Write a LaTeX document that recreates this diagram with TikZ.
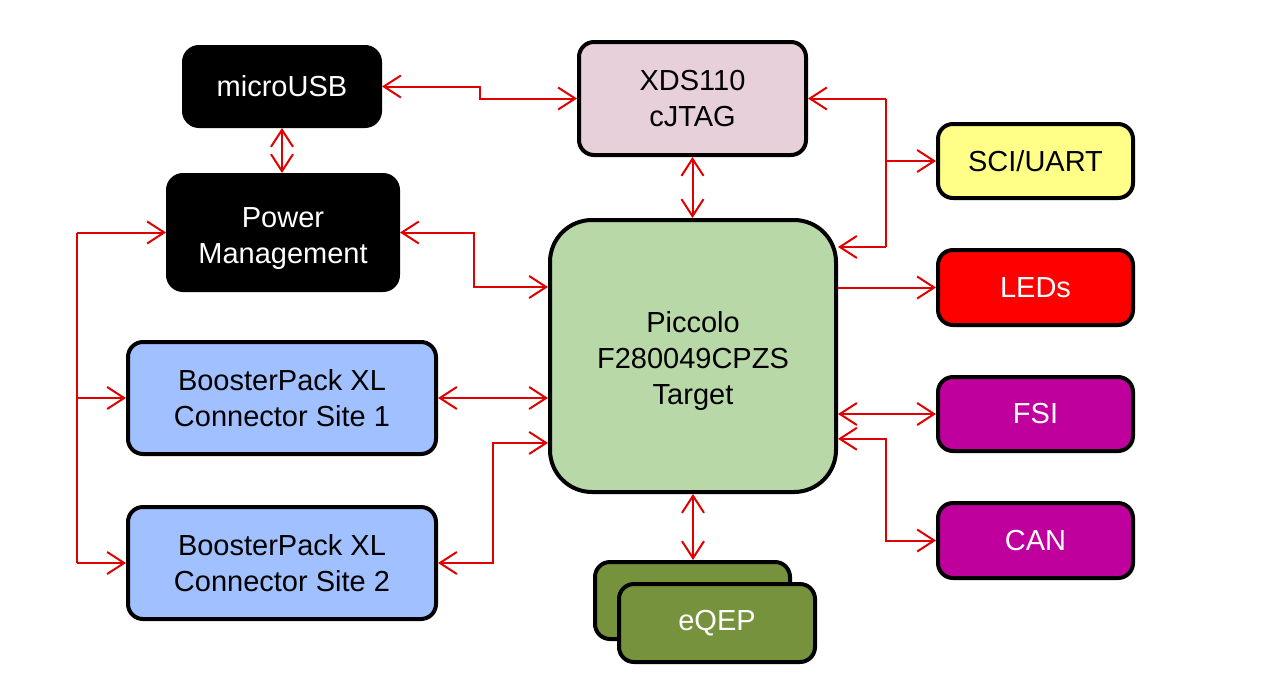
\documentclass[tikz,border=0pt]{standalone}
\usepackage{fontspec}
\setmainfont{Liberation Sans}
\usetikzlibrary{arrows.meta,calc}
\definecolor{conn}{HTML}{E00000}
\definecolor{xdsfill}{HTML}{E8D0DA}
\definecolor{scifill}{HTML}{FFFF88}
\definecolor{picfill}{HTML}{B8D8A8}
\definecolor{ledfill}{HTML}{FF0000}
\definecolor{bpfill}{HTML}{A0C0FF}
\definecolor{magfill}{HTML}{C0009C}
\definecolor{eqfill}{HTML}{76923C}
\tikzset{
  box/.style={draw=black,line width=4pt,rounded corners=15pt,align=center,
    font=\fontsize{29}{36}\selectfont,inner sep=0pt},
  darkbox/.style={box,fill=black,text=white},
  line/.style={draw=conn,line width=2pt},
  tip/.style={line,-{Straight Barb[length=17pt,width=22pt]}},
  biarr/.style={line,{Straight Barb[length=17pt,width=22pt]}-{Straight Barb[length=17pt,width=22pt]}},
}
\newcommand{\lowerstrut}{\rule{0pt}{32pt}}
\begin{document}
\begin{tikzpicture}[x=1pt,y=-1pt]
\useasboundingbox[fill=white] (0,0) rectangle (1261,697);
% boxes
\node[darkbox,minimum width=196pt,minimum height=79pt] (usb) at (282,86.5) {microUSB};
\node[box,fill=xdsfill,minimum width=227pt,minimum height=113pt] (xds) at (692.5,98.5) {XDS110\\cJTAG};
\node[box,fill=scifill,minimum width=195pt,minimum height=74pt] (sci) at (1035.5,161) {SCI/UART};
\node[darkbox,minimum width=230pt,minimum height=115pt] (pwr) at (283,232.5) {\lowerstrut Power\\Management};
\node[box,fill=picfill,rounded corners=42pt,minimum width=286pt,minimum height=272pt] (pic) at (693,356) {\lowerstrut Piccolo\\F280049CPZS\\Target};
\node[box,fill=ledfill,text=white,minimum width=195pt,minimum height=75pt] (led) at (1035.5,287.5) {LEDs};
\node[box,fill=bpfill,minimum width=308pt,minimum height=112pt] (bp1) at (282,398) {BoosterPack XL\\Connector Site 1};
\node[box,fill=magfill,text=white,minimum width=195pt,minimum height=74pt] (fsi) at (1035.5,414) {FSI};
\node[box,fill=bpfill,minimum width=308pt,minimum height=112pt] (bp2) at (282,563) {BoosterPack XL\\Connector Site 2};
\node[box,fill=magfill,text=white,minimum width=195pt,minimum height=75pt] (can) at (1035.5,540.5) {CAN};
\node[box,fill=eqfill,minimum width=195pt,minimum height=77pt] (eqb) at (692.5,600.5) {};
\node[box,fill=eqfill,text=white,minimum width=196pt,minimum height=78pt] (eqf) at (717,623) {eQEP};
% helper coordinates
\coordinate (busR) at (886,0);
\coordinate (busL) at (77,0);
\coordinate (picA) at ($(pic.north east)!0.105!(pic.south east)$);
\coordinate (picC) at ($(pic.north east)!0.80!(pic.south east)$);
\coordinate (picB) at ($(pic.north west)!0.25!(pic.south west)$);
\coordinate (picD) at ($(pic.north west)!0.815!(pic.south west)$);
% connectors
\draw[biarr] (usb.east) -| ($(usb.east)!.5!(xds.west)$) |- (xds.west);
\draw[biarr] (usb.south) -- (usb.south |- pwr.north);
\draw[biarr] (xds.south) -- (xds.south |- pic.north);
\draw[biarr] (pic.south) -- (pic.south |- eqb.north);
\draw[biarr] (pwr.east) -| ($(pwr.east)!.5!(picB)$) |- (picB);
\draw[biarr] (bp1.east) -- (pic.west |- bp1.east);
\draw[biarr] (bp2.east) -| ($(bp2.east)!.5!(picD)$) |- (picD);
% right bus
\draw[line] (busR |- xds.east) -- (busR |- picA);
\draw[tip] (busR |- xds.east) -- (xds.east);
\draw[tip] (busR |- picA) -- (picA);
\draw[tip] (busR |- sci.west) -- (sci.west);
\draw[tip] (pic.east |- led.west) -- (led.west);
\draw[biarr] (pic.east |- fsi.west) -- (fsi.west);
\draw[biarr] (picC) -| (busR |- can.west) -- (can.west);
% left bus
\draw[line] (busL |- pwr.west) -- (busL |- bp2.west);
\draw[tip] (busL |- pwr.west) -- (pwr.west);
\draw[tip] (busL |- bp1.west) -- (bp1.west);
\draw[tip] (busL |- bp2.west) -- (bp2.west);
\end{tikzpicture}
\end{document}
